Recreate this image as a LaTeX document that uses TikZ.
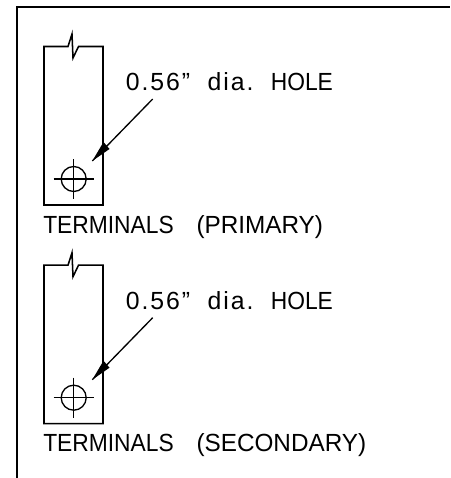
\documentclass[tikz,border=0pt]{standalone}
\usepackage{fontspec}
\setmainfont{Liberation Sans}
\newfontfamily\capsfont[FakeStretch=0.92]{Liberation Sans}
\newfontfamily\wordfont[FakeStretch=0.98]{Liberation Sans}
\newfontfamily\digitfont[LetterSpace=8]{Liberation Sans}
\begin{document}
\begin{tikzpicture}[x=0.75pt,y=-0.75pt,
  ln/.style={draw=black,line width=1.15pt},
  thin ln/.style={draw=black,line width=1pt},
  lbl/.style={inner sep=0pt,anchor=base west,font=\fontsize{18.6pt}{20pt}\selectfont,text=black}]
\useasboundingbox (0,0) rectangle (450,478);
\fill[white] (0,0) rectangle (450,478);
\coordinate (fa) at (17,478);
\coordinate (fb) at (17,7);
\coordinate (fc) at (450,7);
\draw[ln] (fa) -- (fb) -- (fc);
\newcommand{\terminal}[3]{%
  \begin{scope}[yshift=#1*-0.75pt]
    \coordinate (#3tl) at (44,46.5);
    \coordinate (#3b1) at (68,46.5);
    \coordinate (#3b2) at (72,34);
    \coordinate (#3b3) at (73,58);
    \coordinate (#3b4) at (78.5,46.5);
    \coordinate (#3tr) at (103,46.5);
    \coordinate (#3br) at (103,205);
    \coordinate (#3bl) at (44,205);
    \draw[ln] (#3tl) -- (#3b1) -- (#3b2) -- (#3b3) -- (#3b4) -- (#3tr) -- (#3br) -- (#3bl) -- cycle;
    \node[draw=black,line width=1pt,circle,minimum size=18.75pt,inner sep=0pt] (#3hole) at (73.7,179) {};
    \coordinate (#3hl) at (53.7,179);
    \coordinate (#3hr) at (93.7,179);
    \coordinate (#3vt) at (73.7,159);
    \coordinate (#3vb) at (73.7,199);
    \draw[thin ln] (#3hl) -- (#3hr);
    \draw[thin ln] (#3vt) -- (#3vb);
    \coordinate (#3ls) at (152.7,99);
    \coordinate (#3lt) at (92.3,161);
    \coordinate (#3a1) at (103.5,142);
    \coordinate (#3a2) at (109.5,149);
    \draw[thin ln] (#3ls) -- (#3lt);
    \fill[black] (#3lt) -- (#3a1) -- (#3a2) -- cycle;
    \node[lbl] (#3dia) at (125.5,90.5) {{\digitfont 0.56”}\hspace{13pt}{\digitfont dia.}\hspace{13pt}{\capsfont HOLE}};
    \node[lbl] (#3name) at (43,233) {{\capsfont TERMINALS}\hspace{17pt}{\wordfont #2}};
  \end{scope}}
\terminal{0}{(PRIMARY)}{p}
\terminal{218.7}{(SECONDARY)}{s}
\end{tikzpicture}
\end{document}
